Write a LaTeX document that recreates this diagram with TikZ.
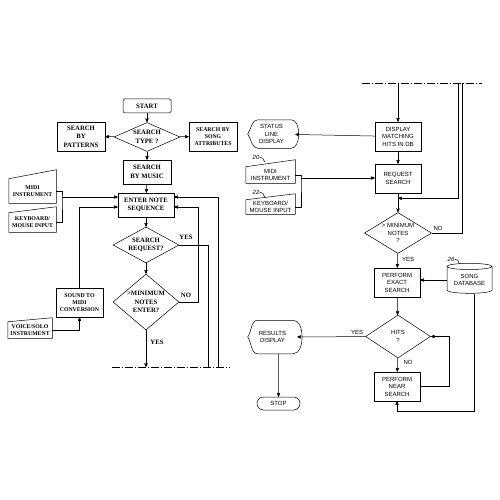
\documentclass[tikz,border=0pt]{standalone}
\usepackage{fontspec}
\setmainfont{Liberation Serif}
\newfontfamily\letterfont{Liberation Sans}
\usetikzlibrary{shapes}
\usetikzlibrary{arrows}

\newcommand{\manualin}[2]{\draw (#1.south west) -- (#1.south east) -- ([yshift=#2pt]#1.north east) -- (#1.north west) -- cycle;}
\newcommand{\dispshape}[1]{\draw ([xshift=10pt]#1.north west) -- ([xshift=-4pt]#1.north east) to[out=0,in=0,looseness=0.9] ([xshift=-4pt]#1.south east) -- ([xshift=10pt]#1.south west) to[out=180,in=-55,looseness=0.9] (#1.west) to[out=55,in=180,looseness=0.9] ([xshift=10pt]#1.north west);}

\begin{document}
\begin{tikzpicture}[x=1pt,y=-1pt,>=stealth',line width=0.5pt]
			\tikzstyle{every node}=[font=\bfseries\fontsize{6.7}{8.5}\selectfont,align=center,inner sep=0pt]
			\tikzstyle{small}=[font=\bfseries\fontsize{5.8}{7}\selectfont]
			\tikzstyle{rtext}=[font=\letterfont\fontsize{6}{7.5}\selectfont]
			\tikzstyle{proc}=[rectangle,draw,minimum width=48pt,minimum height=29pt]
			\tikzstyle{rproc}=[proc,rtext,minimum width=46pt]
			\tikzstyle{decide}=[diamond,draw]
			\tikzstyle{manual}=[rectangle,small,minimum width=47pt]
			\tikzstyle{dispbox}=[rectangle,rtext,minimum width=47pt,minimum height=28pt]
			\tikzstyle{store}=[cylinder,draw,rtext,shape border rotate=90,aspect=0.2,minimum width=45pt,minimum height=30pt]
			\tikzstyle{stopbox}=[rounded rectangle,draw,rtext,minimum width=43pt,minimum height=13pt]
			\tikzstyle{dashdot}=[dash pattern=on 8pt off 2pt on 1pt off 2pt]
			\useasboundingbox (0,0) rectangle (500,500);

			\node[proc,minimum height=14pt,rounded corners=1.5pt] (start) at (147,106) {START};
			\node[decide,aspect=2,minimum width=66pt,minimum height=29pt] (stype) at (147,137) {SEARCH\\TYPE ?};
			\node[proc] (patterns) at (81,136.5) {SEARCH\\BY\\PATTERNS};
			\node[proc,small] (attrib) at (213,136.5) {SEARCH BY\\SONG\\ATTRIBUTES};
			\node[proc,minimum height=24pt] (music) at (147,172) {SEARCH\\BY MUSIC};
			\node[proc,minimum width=56pt,minimum height=24pt] (enter) at (146,205) {ENTER NOTE\\SEQUENCE};
			\node[decide,aspect=2,minimum width=66pt,minimum height=36pt] (sreq) at (146,245) {SEARCH\\REQUEST?};
			\node[decide,aspect=1.17,minimum width=66pt,minimum height=56pt] (minn) at (146,302) {\textgreater MINIMUM\\NOTES\\ENTER?};
			\node[manual,minimum height=24pt] (midil) at (32.5,191) {MIDI\\INSTRUMENT};
			\manualin{midil}{9}
			\node[manual,minimum height=19pt] (keyl) at (32.5,222.5) {KEYBOARD/\\MOUSE INPUT};
			\manualin{keyl}{6}
			\node[proc,small,minimum width=47pt] (sound) at (79.5,302.5) {SOUND TO\\MIDI\\CONVERSION};
			\node[manual,minimum width=44pt,minimum height=16pt] (voice) at (30,330) {VOICE/SOLO\\INSTRUMENT};
			\manualin{voice}{4}
			\node (yes1) at (186,237) {YES};
			\node (no1) at (186,295) {NO};
			\node (yes2) at (157,342) {YES};

			\coordinate (brl) at (62,197);
			\coordinate (dl0) at (146,367);
			\coordinate (dl1) at (208,367);
			\coordinate (dl2) at (218,367);
			\coordinate (dla) at (112,367);
			\coordinate (dlb) at (230,367);

			\draw[->] (start) -- (stype);
			\draw[->] (stype) -- (patterns);
			\draw[->] (stype) -- (attrib);
			\draw[->] (stype) -- (music);
			\draw[->] (music) -- (enter);
			\draw[->] (enter) -- (sreq);
			\draw[->] (sreq) -- (minn);
			\draw (midil.east) -| (brl) |- (keyl.east);
			\draw[->] (brl) -- (brl -| enter.west);
			\draw[->] (sound.north) |- ([yshift=-2pt]enter.west);
			\draw[->] (voice.east) -| (sound.south);
			\draw (sreq.east) -| (dl1);
			\draw[->] (minn.east) -- ++(19,0) |- ([yshift=-2pt]enter.east);
			\draw[->] (dl2) |- ([yshift=8pt]enter.east);
			\draw[->] (minn.south) -- (dl0);
			\draw[dashdot] (dla) -- (dlb);

			\node[rproc] (disp) at (398,136.5) {DISPLAY\\MATCHING\\HITS IN DB};
			\node[dispbox] (status) at (271.5,134) {STATUS\\LINE\\DISPLAY};
			\dispshape{status}
			\node[rproc] (req) at (398,178.5) {REQUEST\\SEARCH};
			\node[manual,rtext,minimum width=49pt,minimum height=16pt] (midir) at (270.5,175) {MIDI\\INSTRUMENT};
			\manualin{midir}{7}
			\node[manual,rtext,minimum width=49pt,minimum height=14pt] (keyr) at (270.5,207) {KEYBOARD/\\MOUSE INPUT};
			\manualin{keyr}{6}
			\node[rtext,font=\letterfont\itshape\fontsize{6}{7}\selectfont] (n20) at (256,157) {20};
			\node[rtext,font=\letterfont\itshape\fontsize{6}{7}\selectfont] (n22) at (256,192) {22};
			\node[decide,rtext,aspect=1.8,minimum width=67pt,minimum height=41pt] (mn) at (398,233) {\textgreater\ MINIMUM\\NOTES\\?};
			\node[rproc] (exact) at (397,282.5) {PERFORM\\EXACT\\SEARCH};
			\node[store] (db) at (469.5,280) {SONG\\DATABASE};
			\node[rtext,font=\letterfont\itshape\fontsize{6}{7}\selectfont] (n26) at (451,259) {26};
			\node[decide,rtext,aspect=1.5,minimum width=65pt,minimum height=43pt] (hits) at (398,336.5) {HITS\\?};
			\node[dispbox,minimum width=49pt,minimum height=33pt] (results) at (272.5,337) {RESULTS\\DISPLAY};
			\dispshape{results}
			\node[stopbox] (stop) at (278.5,403.5) {STOP};
			\node[rproc] (near) at (397,386.5) {PERFORM\\NEAR\\SEARCH};
			\node[rtext] (no3) at (438,228) {NO};
			\node[rtext] (yes3) at (408,259) {YES};
			\node[rtext] (yes4) at (357,332) {YES};
			\node[rtext] (no4) at (408,362) {NO};

			\coordinate (tl0) at (398,83);
			\coordinate (tl1) at (458,83);
			\coordinate (tl2) at (462,83);
			\coordinate (tla) at (362,83);
			\coordinate (tlb) at (482,83);
			\coordinate (brr) at (301,178);

			\draw[dashdot] (tla) -- (tlb);
			\draw[->] (tl0) -- (disp);
			\draw[->] (disp) -- (status);
			\draw[->] (disp) -- (req);
			\draw (midir.east) -| (brr) |- (keyr.east);
			\draw[->] (brr) -- (brr -| req.west);
			\draw (n20.east) to[out=0,in=100] ++(5,5);
			\draw (n22.east) to[out=0,in=100] ++(5,5);
			\draw (n26.east) to[out=0,in=100] ++(5,5);
			\draw[->] (req) -- (mn);
			\draw[->] (tl1) |- ([yshift=-5pt]req.south);
			\draw (mn.east) -| (tl2);
			\draw[->] (mn) -- (exact);
			\draw[->] (db.west) -- (db.west -| exact.east);
			\draw[->] (exact) -- (hits);
			\draw[->] (hits) -- (results);
			\draw[->] (stop.north |- results.south) -- (stop);
			\draw[->] (hits) -- (near);
			\draw[->] (near.east) -- ++(29,0) |- (hits.east);
			\draw[->] ([xshift=5pt]db.south) -- ++(0,118) -| (near.south);
\end{tikzpicture}
\end{document}
